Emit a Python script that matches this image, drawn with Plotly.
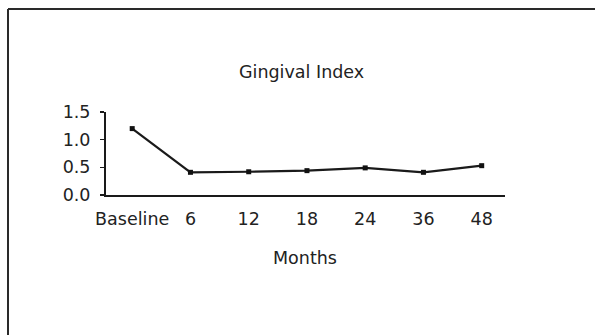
import plotly.graph_objects as go

categories = ["Baseline", "6", "12", "18", "24", "36", "48"]
gingival_index = [1.20, 0.41, 0.42, 0.44, 0.49, 0.41, 0.53]
y_ticks = [0.0, 0.5, 1.0, 1.5]

W, H = 595, 335
L, R, T, B = 106, 90, 112, 140
pw = W - L - R
ph = H - T - B

def px_to_paper_x(px):
    return (px - L) / pw

def px_to_paper_y(py):
    return (H - B - py) / ph

FONT = "DejaVu Sans, Arial, sans-serif"
FS = 17.5
TXT = "#222222"

fig = go.Figure()
fig.add_trace(go.Scatter(
    x=categories, y=gingival_index, mode="lines+markers",
    line=dict(color="#1a1a1a", width=2.2),
    marker=dict(symbol="square", size=5, color="#111111"),
    cliponaxis=False, showlegend=False, hoverinfo="skip",
))

fig.update_layout(
    width=W, height=H,
    margin=dict(l=L, r=R, t=T, b=B, pad=0),
    paper_bgcolor="white", plot_bgcolor="white",
    font=dict(family=FONT, size=FS, color=TXT),
    xaxis=dict(
        type="category", range=[-0.45, 6.4],
        showline=True, linecolor="#1a1a1a", linewidth=2,
        showgrid=False, zeroline=False,
        ticks="outside", ticklen=7, tickcolor="rgba(0,0,0,0)",
        tickfont=dict(family=FONT, size=FS, color=TXT),
    ),
    yaxis=dict(
        range=[0, 1.5], tickvals=y_ticks, tickformat=".1f",
        showline=True, linecolor="#1a1a1a", linewidth=2,
        showgrid=False, zeroline=False,
        ticks="outside", ticklen=4, tickwidth=1.5, tickcolor="#1a1a1a",
        ticklabelstandoff=6,
        tickfont=dict(family=FONT, size=FS, color=TXT),
    ),
    annotations=[
        dict(text="Gingival Index", xref="paper", yref="paper",
             x=px_to_paper_x(301), y=px_to_paper_y(72),
             xanchor="center", yanchor="middle", showarrow=False,
             font=dict(family=FONT, size=FS, color=TXT)),
        dict(text="Months", xref="paper", yref="paper",
             x=px_to_paper_x(305), y=px_to_paper_y(258),
             xanchor="center", yanchor="middle", showarrow=False,
             font=dict(family=FONT, size=FS, color=TXT)),
    ],
    shapes=[
        dict(type="line", xref="paper", yref="paper",
             x0=px_to_paper_x(8), y0=px_to_paper_y(9),
             x1=px_to_paper_x(600), y1=px_to_paper_y(9),
             line=dict(color="#2a2a2a", width=2)),
        dict(type="line", xref="paper", yref="paper",
             x0=px_to_paper_x(8), y0=px_to_paper_y(9),
             x1=px_to_paper_x(8), y1=px_to_paper_y(340),
             line=dict(color="#2a2a2a", width=2)),
    ],
)

fig.write_html(
    "out.html",
    config={"displayModeBar": False, "staticPlot": True},
    post_script="document.body.style.margin='0px';document.body.style.overflow='hidden';",
)
